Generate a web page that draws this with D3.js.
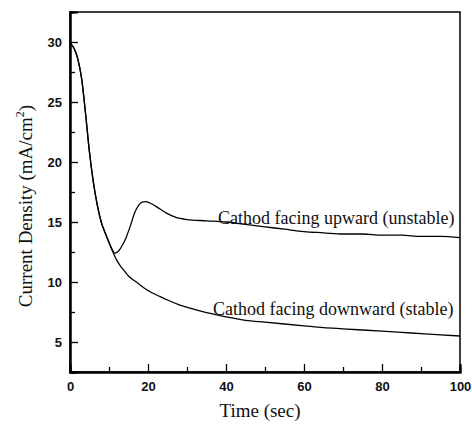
<!DOCTYPE html>
<html><head><meta charset="utf-8">
<script src="https://cdn.jsdelivr.net/npm/d3@7"></script>
<style>body{margin:0;background:#fff}svg{display:block}</style>
</head><body>
<svg id="c" width="472" height="426"></svg>
<script>
const upTime = [0,1,2,3,4,5,6,7,8,9,10,11,11.5,12.5,13.5,14.5,15.5,16.5,17.5,18.5,19.5,21,23,25,27,30,35,40,45,50,55,60,65,70,75,80,85,90,95,100];
const upValue = [29.9,29.5,28.6,26.9,24.0,20.8,18.3,16.4,15.0,14.1,13.3,12.6,12.4,12.6,13.1,13.8,14.7,15.7,16.35,16.65,16.7,16.5,16.1,15.7,15.4,15.2,15.1,15.0,14.8,14.6,14.4,14.2,14.1,14.0,14.0,13.9,13.9,13.8,13.8,13.7];
const downTime = [0,1,2,3,4,5,6,7,8,9,10,11,12,13,14,15,17,19,21,23,25,28,31,35,40,45,50,55,60,65,70,75,80,85,90,95,100];
const downValue = [29.9,29.5,28.6,26.9,24.0,20.8,18.3,16.4,15.0,14.1,13.3,12.5,11.8,11.3,10.9,10.5,10.0,9.5,9.1,8.8,8.5,8.1,7.8,7.45,7.1,6.8,6.65,6.5,6.35,6.2,6.1,6.0,5.9,5.8,5.7,5.6,5.5];
const xMajor = [0,20,40,60,80,100];
const xMinor = [10,30,50,70,90];
const yMajor = [5,10,15,20,25,30];
const yMinor = [2.5,7.5,12.5,17.5,22.5,27.5];
const labelUp = "Cathod facing upward (unstable)";
const labelDown = "Cathod facing downward (stable)";

const svg = d3.select("#c");
const x = d3.scaleLinear().domain([0,100]).range([70,460]);
const y = d3.scaleLinear().domain([2.5,32.5]).range([372,12]);

// frame
svg.append("rect").attr("x",70).attr("y",12).attr("width",390).attr("height",360)
  .attr("fill","none").attr("stroke","#000").attr("stroke-width",1.5);

const tickFont = g => g.selectAll("text").attr("font-family","Liberation Sans, Arial, sans-serif")
  .attr("font-size",13).attr("font-weight","bold").attr("fill","#111");

const gx = svg.append("g").attr("transform","translate(0,372)")
  .call(d3.axisBottom(x).tickValues(xMajor).tickSize(-8).tickPadding(10).tickFormat(d3.format("d")));
gx.call(tickFont);
svg.append("g").attr("transform","translate(0,372)")
  .call(d3.axisBottom(x).tickValues(xMinor).tickSize(-5).tickFormat(""));
const gy = svg.append("g").attr("transform","translate(70,0)")
  .call(d3.axisLeft(y).tickValues(yMajor).tickSize(-8).tickPadding(8).tickFormat(d3.format("d")));
gy.call(tickFont);
svg.append("g").attr("transform","translate(70,0)")
  .call(d3.axisLeft(y).tickValues(yMinor).tickSize(-5).tickFormat(""));
svg.selectAll(".domain").attr("stroke-width",2).attr("stroke","#000");
svg.selectAll(".tick line").attr("stroke-width",1.3).attr("stroke","#000");

const line = d3.line().x(d=>x(d[0])).y(d=>y(d[1])).curve(d3.curveMonotoneX);
svg.append("path").datum(downTime.map((t,i)=>[t,downValue[i]]))
  .attr("d",line).attr("fill","none").attr("stroke","#000").attr("stroke-width",1.3);
svg.append("path").datum(upTime.map((t,i)=>[t,upValue[i]]))
  .attr("d",line).attr("fill","none").attr("stroke","#000").attr("stroke-width",1.3);

const serif = "Liberation Serif, Times New Roman, serif";
svg.append("text").attr("x",218).attr("y",224).attr("font-family",serif).attr("font-size",18)
  .attr("fill","#111").text(labelUp);
svg.append("text").attr("x",213).attr("y",315).attr("font-family",serif).attr("font-size",18)
  .attr("fill","#111").text(labelDown);

svg.append("text").attr("x",260).attr("y",417).attr("text-anchor","middle")
  .attr("font-family",serif).attr("font-size",19).attr("fill","#111").text("Time (sec)");

const yt = svg.append("text").attr("transform","translate(32,206) rotate(-90)")
  .attr("text-anchor","middle").attr("font-family",serif).attr("font-size",19).attr("fill","#111");
yt.append("tspan").text("Current Density (mA/cm");
yt.append("tspan").attr("font-size",12).attr("dy",-8).text("2");
yt.append("tspan").attr("dy",8).text(")");
</script>
</body></html>
